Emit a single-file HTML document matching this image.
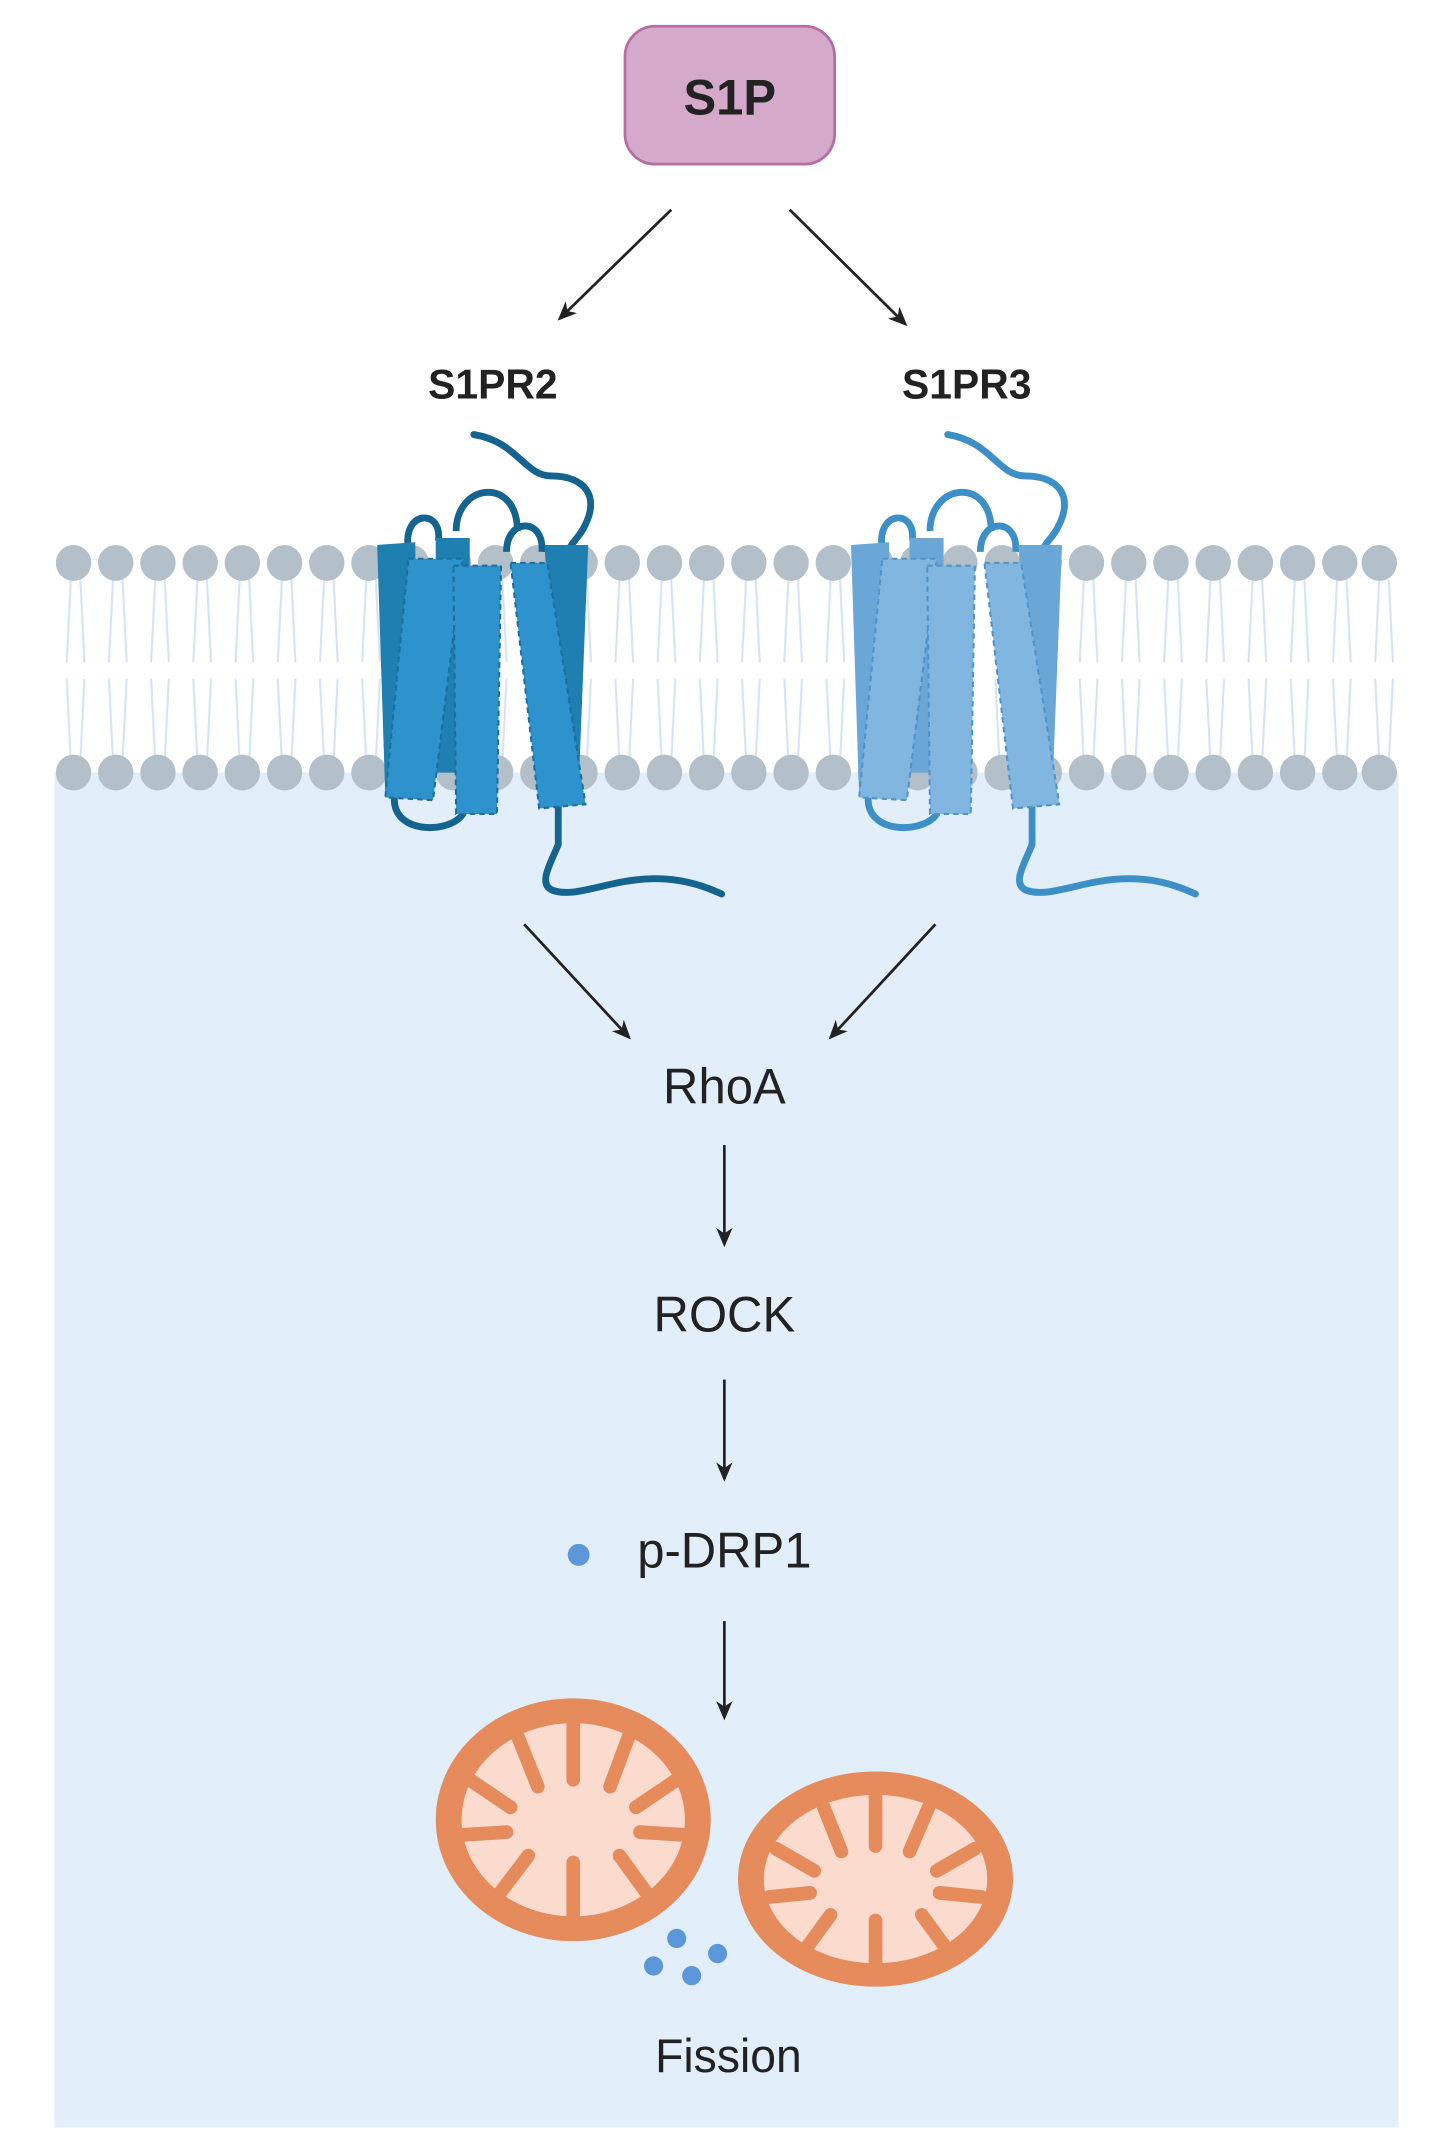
<!DOCTYPE html>
<html><head><meta charset="utf-8"><style>html,body{margin:0;padding:0;background:#fff}svg{display:block}</style></head>
<body>
<svg width="1446" height="2155" viewBox="0 0 1062 1562" preserveAspectRatio="none" xmlns="http://www.w3.org/2000/svg">
<defs>
<marker id="ah" markerWidth="14" markerHeight="14" refX="12" refY="7" orient="auto" markerUnits="userSpaceOnUse">
<path d="M0,1 L14,7 L0,13 L4,7 z" fill="#222"/></marker>
<pattern id="tails" x="40" y="0" width="31" height="200" patternUnits="userSpaceOnUse">
<path d="M12,420 L9,480 M19,420 L22,480 M9,492 L12,552 M22,492 L19,552" stroke="#d3e3f4" stroke-width="1.5" fill="none" transform="translate(0,-400)"/>
</pattern>
<g id="row">
<circle cx="54" cy="0" r="13"/><circle cx="85" cy="0" r="13"/><circle cx="116" cy="0" r="13"/><circle cx="147" cy="0" r="13"/><circle cx="178" cy="0" r="13"/><circle cx="209" cy="0" r="13"/><circle cx="240" cy="0" r="13"/><circle cx="271" cy="0" r="13"/><circle cx="302" cy="0" r="13"/><circle cx="333" cy="0" r="13"/><circle cx="364" cy="0" r="13"/><circle cx="395" cy="0" r="13"/><circle cx="426" cy="0" r="13"/><circle cx="457" cy="0" r="13"/><circle cx="488" cy="0" r="13"/><circle cx="519" cy="0" r="13"/><circle cx="550" cy="0" r="13"/><circle cx="581" cy="0" r="13"/><circle cx="612" cy="0" r="13"/><circle cx="643" cy="0" r="13"/><circle cx="674" cy="0" r="13"/><circle cx="705" cy="0" r="13"/><circle cx="736" cy="0" r="13"/><circle cx="767" cy="0" r="13"/><circle cx="798" cy="0" r="13"/><circle cx="829" cy="0" r="13"/><circle cx="860" cy="0" r="13"/><circle cx="891" cy="0" r="13"/><circle cx="922" cy="0" r="13"/><circle cx="953" cy="0" r="13"/><circle cx="984" cy="0" r="13"/><circle cx="1013" cy="0" r="13"/>
</g>
<g id="rec">
<path d="M348,315 C380,320 385,345 405,345 C430,345 440,360 430,380 C425,392 415,395 420,402" fill="none" stroke="currentColor" stroke-width="5" stroke-linecap="round"/>
<path d="M300,398 C295,370 325,368 322,392 M335,385 C335,350 380,345 380,385 M372,400 C372,375 400,375 398,400" fill="none" stroke="currentColor" stroke-width="5"/>
<path d="M290,575 C285,605 330,605 340,590 M410,582 L410,612 C405,625 395,640 405,645 C430,655 470,620 530,648" fill="none" stroke="currentColor" stroke-width="5" stroke-linecap="round"/>
</g>
</defs>
<rect x="40" y="560" width="987" height="982" fill="#e3eefb"/>
<rect x="40" y="415" width="987" height="140" fill="url(#tails)"/>
<g fill="#b3bfc9">
<use href="#row" y="408"/><use href="#row" y="560"/>
</g>
<!-- receptor 1 -->
<g style="color:#14648f">
<use href="#rec"/>
<polygon points="277,395 305,393 306,575 283,578" fill="#1f7fb0"/>
<polygon points="400,395 432,395 425,570 410,572" fill="#1f7fb0"/>
<polygon points="320,390 345,390 345,560 320,560" fill="#1f7fb0"/>
<polygon points="300,405 340,405 318,580 283,578" fill="#2e92cc" stroke="#1a6f9e" stroke-width="1.5" stroke-dasharray="4,3"/>
<polygon points="333,410 368,410 365,590 335,590" fill="#2e92cc" stroke="#1a6f9e" stroke-width="1.5" stroke-dasharray="4,3"/>
<polygon points="375,408 402,408 430,583 396,586" fill="#2e92cc" stroke="#1a6f9e" stroke-width="1.5" stroke-dasharray="4,3"/>
</g>
<!-- receptor 2 -->
<g transform="translate(348,0)" style="color:#3d8fc8">
<use href="#rec"/>
<polygon points="277,395 305,393 306,575 283,578" fill="#6ba7d6"/>
<polygon points="400,395 432,395 425,570 410,572" fill="#6ba7d6"/>
<polygon points="320,390 345,390 345,560 320,560" fill="#6ba7d6"/>
<polygon points="300,405 340,405 318,580 283,578" fill="#80b6e0" stroke="#4f93c8" stroke-width="1.5" stroke-dasharray="4,3"/>
<polygon points="333,410 368,410 365,590 335,590" fill="#80b6e0" stroke="#4f93c8" stroke-width="1.5" stroke-dasharray="4,3"/>
<polygon points="375,408 402,408 430,583 396,586" fill="#80b6e0" stroke="#4f93c8" stroke-width="1.5" stroke-dasharray="4,3"/>
</g>
<!-- S1P -->
<rect x="459" y="19" width="154" height="100" rx="22" fill="#d4a9c9" stroke="#b66da6" stroke-width="2"/>
<g font-family="Liberation Sans, sans-serif" fill="#222" text-anchor="middle">
<text x="536" y="83" font-size="36" font-weight="bold">S1P</text>
<text x="362" y="289" font-size="30" font-weight="bold">S1PR2</text>
<text x="710" y="289" font-size="30" font-weight="bold">S1PR3</text>
<text x="532" y="800" font-size="36">RhoA</text>
<text x="532" y="965" font-size="36">ROCK</text>
<text x="532" y="1136" font-size="36">p-DRP1</text>
<text x="535" y="1502" font-size="34">Fission</text>
</g>
<g stroke="#222" stroke-width="2" marker-end="url(#ah)">
<line x1="493" y1="152" x2="411" y2="231"/>
<line x1="580" y1="152" x2="665" y2="235"/>
<line x1="385" y1="670" x2="462" y2="752"/>
<line x1="687" y1="670" x2="610" y2="752"/>
<line x1="532" y1="830" x2="532" y2="902"/>
<line x1="532" y1="1000" x2="532" y2="1072"/>
<line x1="532" y1="1175" x2="532" y2="1245"/>
</g>
<g fill="#5b97d9">
<circle cx="425" cy="1127" r="8"/>
<circle cx="480" cy="1425" r="7"/><circle cx="497" cy="1405" r="7"/><circle cx="508" cy="1432" r="7"/><circle cx="527" cy="1416" r="7"/>
</g>
<!-- mitochondria -->
<g>
<ellipse cx="421" cy="1319" rx="101" ry="88" fill="#e68c5c"/>
<ellipse cx="421" cy="1319" rx="82" ry="70" fill="#fbdbce"/>
<g stroke="#e68c5c" stroke-width="10" stroke-linecap="round" fill="none">
<path d="M421,1250 L421,1290 M380,1258 L395,1295 M462,1258 L448,1295 M345,1290 L375,1310 M497,1290 L467,1310 M340,1330 L372,1328 M502,1330 L470,1328 M365,1375 L388,1345 M477,1375 L455,1345 M421,1390 L421,1350"/>
</g>
</g>
<g>
<ellipse cx="643" cy="1362" rx="101" ry="78" fill="#e68c5c"/>
<ellipse cx="643" cy="1362" rx="82" ry="61" fill="#fbdbce"/>
<g stroke="#e68c5c" stroke-width="10" stroke-linecap="round" fill="none">
<path d="M643,1302 L643,1338 M605,1310 L618,1342 M682,1310 L668,1342 M570,1340 L598,1356 M716,1340 L688,1356 M565,1375 L595,1372 M721,1375 L690,1372 M590,1415 L610,1388 M697,1415 L677,1388 M643,1425 L643,1392"/>
</g>
</g>
</svg>
</body></html>
